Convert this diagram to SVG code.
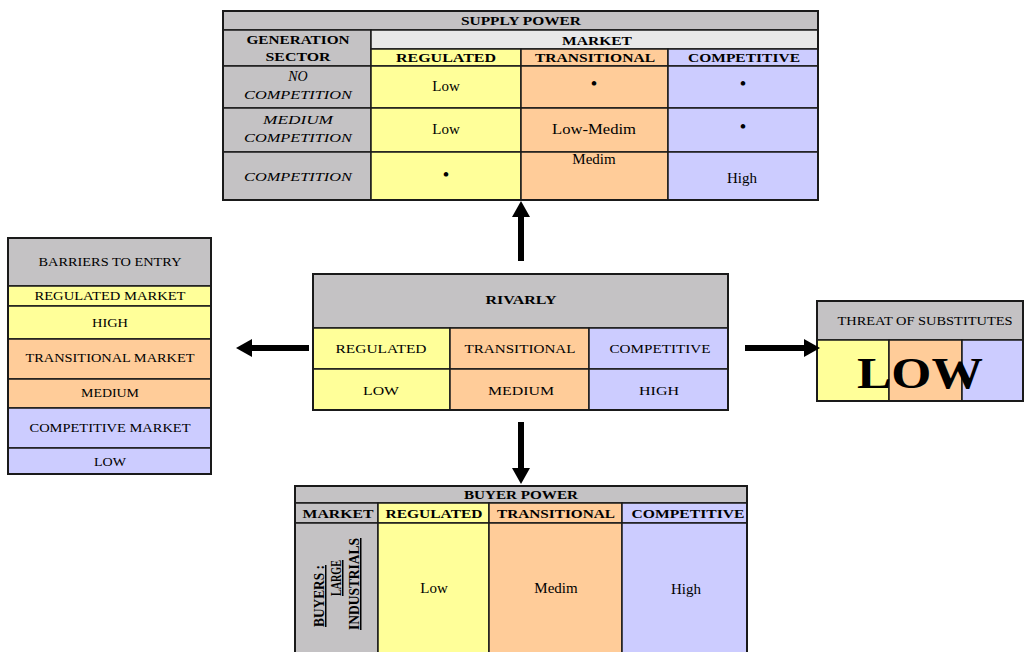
<svg xmlns="http://www.w3.org/2000/svg" width="1024" height="652" viewBox="0 0 1024 652">
<style>
.g{fill:#c4c2c4}
.lg{fill:#e8e8e8}
.y{fill:#ffff99}
.o{fill:#ffcc99}
.b{fill:#ccccff}
rect{stroke:#1a1a1a;stroke-width:1.5}
.out{fill:none;stroke:#1a1a1a;stroke-width:2}
text{font-family:"Liberation Serif","Times New Roman",serif;fill:#000;text-anchor:middle}
.hb{font-weight:bold;font-size:13px}
.r{font-size:13px}
.v{font-size:15px}
.d{font-size:17px;font-weight:bold}
.it{font-style:italic;font-size:13px}
.vt{font-weight:bold;font-size:15px;text-decoration:underline}
.arrow{stroke:#000;stroke-width:6;fill:none}
</style>
<defs>
<marker id="ah" markerUnits="userSpaceOnUse" markerWidth="16" markerHeight="18" viewBox="0 0 16 18" refX="0" refY="9" orient="auto">
<path d="M0,0 L16,9 L0,18 z" fill="#000"/>
</marker>
</defs>

<g id="supply-power">
<rect class="g" x="223" y="11" width="595" height="19"/>
<rect class="g" x="223" y="30" width="148" height="36"/>
<rect class="lg" x="371" y="30" width="447" height="19"/>
<rect class="y" x="371" y="49" width="150" height="17"/>
<rect class="o" x="521" y="49" width="147" height="17"/>
<rect class="b" x="668" y="49" width="150" height="17"/>
<rect class="g" x="223" y="66" width="148" height="42"/>
<rect class="y" x="371" y="66" width="150" height="42"/>
<rect class="o" x="521" y="66" width="147" height="42"/>
<rect class="b" x="668" y="66" width="150" height="42"/>
<rect class="g" x="223" y="108" width="148" height="44"/>
<rect class="y" x="371" y="108" width="150" height="44"/>
<rect class="o" x="521" y="108" width="147" height="44"/>
<rect class="b" x="668" y="108" width="150" height="44"/>
<rect class="g" x="223" y="152" width="148" height="48"/>
<rect class="y" x="371" y="152" width="150" height="48"/>
<rect class="o" x="521" y="152" width="147" height="48"/>
<rect class="b" x="668" y="152" width="150" height="48"/>
<rect class="out" x="223" y="11" width="595" height="189"/>
<text class="hb" x="521" y="25" textLength="120" lengthAdjust="spacingAndGlyphs">SUPPLY POWER</text>
<text class="hb" x="298" y="44" textLength="103" lengthAdjust="spacingAndGlyphs">GENERATION</text>
<text class="hb" x="298" y="61" textLength="65" lengthAdjust="spacingAndGlyphs">SECTOR</text>
<text class="hb" x="597" y="45" textLength="70" lengthAdjust="spacingAndGlyphs">MARKET</text>
<text class="hb" x="446" y="62" textLength="100" lengthAdjust="spacingAndGlyphs">REGULATED</text>
<text class="hb" x="595" y="62" textLength="120" lengthAdjust="spacingAndGlyphs">TRANSITIONAL</text>
<text class="hb" x="744" y="62" textLength="112" lengthAdjust="spacingAndGlyphs">COMPETITIVE</text>
<text class="it" x="298" y="81" style="font-size:14px">NO</text>
<text class="it" x="298" y="99" textLength="108" lengthAdjust="spacingAndGlyphs">COMPETITION</text>
<text class="v" x="446" y="91">Low</text>
<text class="d" x="594" y="89">•</text>
<text class="d" x="743" y="89">•</text>
<text class="it" x="298" y="124" textLength="70" lengthAdjust="spacingAndGlyphs">MEDIUM</text>
<text class="it" x="298" y="142" textLength="108" lengthAdjust="spacingAndGlyphs">COMPETITION</text>
<text class="v" x="446" y="134">Low</text>
<text class="v" x="594" y="134" textLength="84" lengthAdjust="spacingAndGlyphs">Low-Medim</text>
<text class="d" x="743" y="132">•</text>
<text class="it" x="298" y="181" textLength="108" lengthAdjust="spacingAndGlyphs">COMPETITION</text>
<text class="d" x="446" y="180">•</text>
<text class="v" x="594" y="164">Medim</text>
<text class="v" x="742" y="183">High</text>
</g>

<g id="rivalry">
<rect class="g" x="313" y="274" width="415" height="54"/>
<rect class="y" x="313" y="328" width="137" height="41"/>
<rect class="o" x="450" y="328" width="139" height="41"/>
<rect class="b" x="589" y="328" width="139" height="41"/>
<rect class="y" x="313" y="369" width="137" height="41"/>
<rect class="o" x="450" y="369" width="139" height="41"/>
<rect class="b" x="589" y="369" width="139" height="41"/>
<rect class="out" x="313" y="274" width="415" height="136"/>
<text class="hb" x="521" y="304" textLength="71" lengthAdjust="spacingAndGlyphs">RIVARLY</text>
<text class="r" x="381" y="353" textLength="91" lengthAdjust="spacingAndGlyphs">REGULATED</text>
<text class="r" x="520" y="353" textLength="111" lengthAdjust="spacingAndGlyphs">TRANSITIONAL</text>
<text class="r" x="660" y="353" textLength="101" lengthAdjust="spacingAndGlyphs">COMPETITIVE</text>
<text class="r" x="381" y="395" textLength="36" lengthAdjust="spacingAndGlyphs">LOW</text>
<text class="r" x="521" y="395" textLength="66" lengthAdjust="spacingAndGlyphs">MEDIUM</text>
<text class="r" x="659" y="395" textLength="40" lengthAdjust="spacingAndGlyphs">HIGH</text>
</g>

<g id="barriers-to-entry">
<rect class="g" x="8" y="238" width="203" height="48"/>
<rect class="y" x="8" y="286" width="203" height="20"/>
<rect class="y" x="8" y="306" width="203" height="33"/>
<rect class="o" x="8" y="339" width="203" height="40"/>
<rect class="o" x="8" y="379" width="203" height="29"/>
<rect class="b" x="8" y="408" width="203" height="40"/>
<rect class="b" x="8" y="448" width="203" height="26"/>
<rect class="out" x="8" y="238" width="203" height="236"/>
<text class="r" x="110" y="266" textLength="143" lengthAdjust="spacingAndGlyphs">BARRIERS TO ENTRY</text>
<text class="r" x="110" y="300" textLength="151" lengthAdjust="spacingAndGlyphs">REGULATED MARKET</text>
<text class="r" x="110" y="327" textLength="36" lengthAdjust="spacingAndGlyphs">HIGH</text>
<text class="r" x="110" y="362" textLength="169" lengthAdjust="spacingAndGlyphs">TRANSITIONAL MARKET</text>
<text class="r" x="110" y="397" textLength="58" lengthAdjust="spacingAndGlyphs">MEDIUM</text>
<text class="r" x="110" y="432" textLength="161" lengthAdjust="spacingAndGlyphs">COMPETITIVE MARKET</text>
<text class="r" x="110" y="466" textLength="32" lengthAdjust="spacingAndGlyphs">LOW</text>
</g>

<g id="threat-of-substitutes">
<rect class="g" x="817" y="301" width="206" height="39"/>
<rect class="y" x="817" y="340" width="72" height="61"/>
<rect class="o" x="889" y="340" width="73" height="61"/>
<rect class="b" x="962" y="340" width="61" height="61"/>
<rect class="out" x="817" y="301" width="206" height="100"/>
<text class="r" x="925" y="325" textLength="175" lengthAdjust="spacingAndGlyphs">THREAT OF SUBSTITUTES</text>
<text x="920" y="388" style="font-size:44px;font-weight:bold" textLength="126" lengthAdjust="spacingAndGlyphs">LOW</text>
</g>

<g id="buyer-power">
<rect class="g" x="295" y="486" width="452" height="17"/>
<rect class="g" x="295" y="503" width="83" height="20"/>
<rect class="y" x="378" y="503" width="111" height="20"/>
<rect class="o" x="489" y="503" width="133" height="20"/>
<rect class="b" x="622" y="503" width="125" height="20"/>
<rect class="g" x="295" y="523" width="83" height="140"/>
<rect class="y" x="378" y="523" width="111" height="140"/>
<rect class="o" x="489" y="523" width="133" height="140"/>
<rect class="b" x="622" y="523" width="125" height="140"/>
<rect class="out" x="295" y="486" width="452" height="177"/>
<text class="hb" x="521" y="499" textLength="114" lengthAdjust="spacingAndGlyphs">BUYER POWER</text>
<text class="hb" x="338" y="518" textLength="71" lengthAdjust="spacingAndGlyphs">MARKET</text>
<text class="hb" x="434" y="518" textLength="97" lengthAdjust="spacingAndGlyphs">REGULATED</text>
<text class="hb" x="556" y="518" textLength="118" lengthAdjust="spacingAndGlyphs">TRANSITIONAL</text>
<text class="hb" x="688" y="518" textLength="113" lengthAdjust="spacingAndGlyphs">COMPETITIVE</text>
<text class="vt" transform="translate(324,596) rotate(-90)" textLength="62" lengthAdjust="spacingAndGlyphs">BUYERS :</text>
<text class="vt" transform="translate(341,578) rotate(-90)" textLength="36" lengthAdjust="spacingAndGlyphs">LARGE</text>
<text class="vt" transform="translate(359,584) rotate(-90)" textLength="92" lengthAdjust="spacingAndGlyphs">INDUSTRIALS</text>
<text class="v" x="434" y="593">Low</text>
<text class="v" x="556" y="593">Medim</text>
<text class="v" x="686" y="594">High</text>
</g>

<g id="connectors">
<line class="arrow" x1="521" y1="261" x2="521" y2="217" marker-end="url(#ah)"/>
<line class="arrow" x1="309" y1="348" x2="252" y2="348" marker-end="url(#ah)"/>
<line class="arrow" x1="745" y1="348" x2="804" y2="348" marker-end="url(#ah)"/>
<line class="arrow" x1="521" y1="422" x2="521" y2="468" marker-end="url(#ah)"/>
</g>
</svg>
